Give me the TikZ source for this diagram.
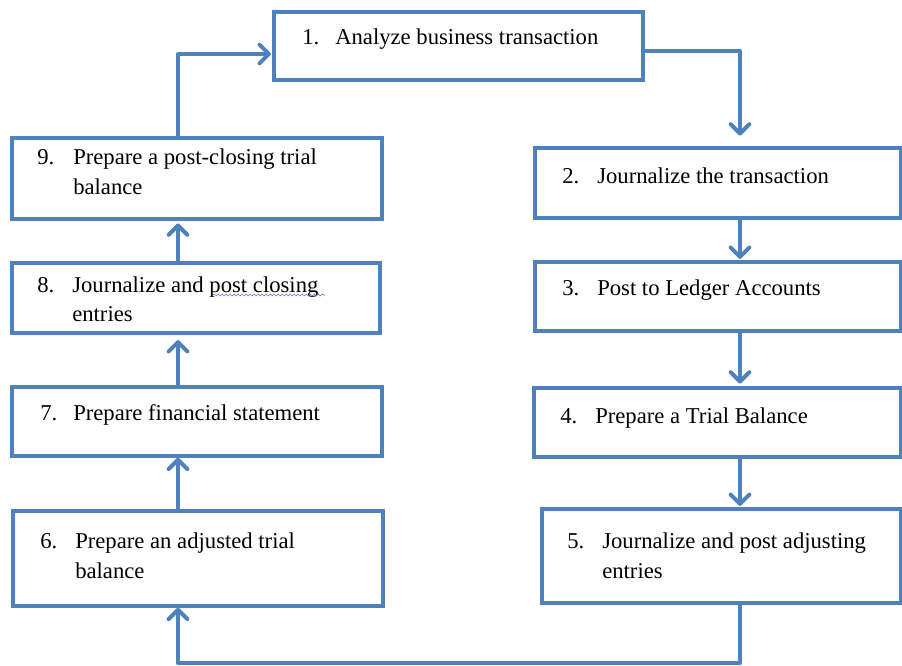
\documentclass[tikz,border=0pt]{standalone}
\usepackage{fontspec}
\setmainfont{Liberation Serif}
\usetikzlibrary{arrows.meta,fit,decorations.pathmorphing}
\definecolor{flowblue}{HTML}{4F81BD}
\definecolor{squig}{RGB}{120,120,230}
\tikzset{
  stepbox/.style={draw=flowblue, line width=2.7pt, inner sep=0pt, fill=white},
  lbl/.style={anchor=base west, inner sep=0pt, font=\fontsize{17}{20}\selectfont, text=black},
  arr/.style={draw=flowblue, line width=3pt, line join=round,
    -{Straight Barb[length=7pt,width=14pt,line width=3pt,round]}},
}
\begin{document}
\begin{tikzpicture}[x=0.75pt,y=-0.75pt]
\useasboundingbox (0,0) rectangle (902,666);
% boxes
\node[stepbox, fit={(274,12) (643,80)}] (n1) {};
\node[stepbox, fit={(535,148) (901,218)}] (n2) {};
\node[stepbox, fit={(535,262) (901,331)}] (n3) {};
\node[stepbox, fit={(534,388) (901,457)}] (n4) {};
\node[stepbox, fit={(542,509) (901,603)}] (n5) {};
\node[stepbox, fit={(13,511) (383,606)}] (n6) {};
\node[stepbox, fit={(12,387) (382,456)}] (n7) {};
\node[stepbox, fit={(12,263) (380,333)}] (n8) {};
\node[stepbox, fit={(12,138) (382,219)}] (n9) {};
% texts
\node[lbl] (k1) at (302,45) {1.};
\node[lbl] (t1) at (335,45) {Analyze business transaction};
\node[lbl] (k2) at (562,184) {2.};
\node[lbl] (t2) at (597,184) {Journalize the transaction};
\node[lbl] (k3) at (562,296) {3.};
\node[lbl] (t3) at (597,296) {Post to Ledger Accounts};
\node[lbl] (k4) at (560,423) {4.};
\node[lbl] (t4) at (595,423) {Prepare a Trial Balance};
\node[lbl] (k5) at (567,548) {5.};
\node[lbl] (t5a) at (602,548) {Journalize and post adjusting};
\node[lbl] (t5b) at (602,578) {entries};
\node[lbl] (k6) at (40,548) {6.};
\node[lbl] (t6a) at (75,548) {Prepare an adjusted trial};
\node[lbl] (t6b) at (75,578) {balance};
\node[lbl] (k7) at (40,420) {7.};
\node[lbl] (t7) at (73,420) {Prepare financial statement};
\node[lbl] (k8) at (37,292) {8.};
\node[lbl] (t8a) at (72,292) {Journalize and post closing};
\node[lbl] (t8b) at (72,321) {entries};
\node[lbl] (k9) at (37,165) {9.};
\node[lbl] (t9a) at (73,165) {Prepare a post-closing trial};
\node[lbl] (t9b) at (73,195) {balance};
% spell-check squiggle
\coordinate (sq1) at (213,295);
\coordinate (sq2) at (325,295);
\draw[squig, line width=0.5pt, decorate, decoration={snake, amplitude=0.7pt, segment length=3pt}] (sq1) -- (sq2);
% connectors
\coordinate (rx) at (740,0);
\coordinate (lx) at (178,0);
\coordinate (topy) at (0,54);
\coordinate (boty) at (0,663);
\draw[arr, shorten >=8pt] (n1.east |- 0,51) -| (n2.north -| rx);
\draw[arr, shorten >=1pt] (n2.south -| rx) -- (n3.north -| rx);
\draw[arr, shorten >=2pt] (n3.south -| rx) -- (n4.north -| rx);
\draw[arr, shorten >=1pt] (n4.south -| rx) -- (n5.north -| rx);
\draw[arr, shorten >=0pt] (n5.south -| rx) |- (boty -| lx) -- (n6.south -| lx);
\draw[arr, shorten >=0pt] (n6.north -| lx) -- (n7.south -| lx);
\draw[arr, shorten >=4pt] (n7.north -| lx) -- (n8.south -| lx);
\draw[arr, shorten >=2pt] (n8.north -| lx) -- (n9.south -| lx);
\draw[arr, shorten >=1pt] (n9.north -| lx) |- (n1.west |- topy);
\end{tikzpicture}
\end{document}
